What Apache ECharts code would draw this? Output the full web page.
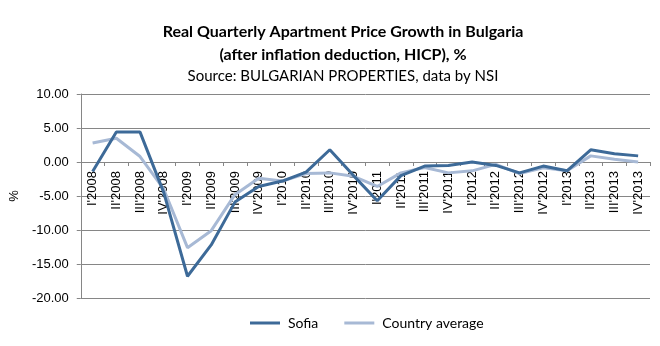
<!DOCTYPE html>
<html>
<head>
<meta charset="utf-8">
<script src="https://cdn.jsdelivr.net/npm/echarts@6/dist/echarts.min.js"></script>
<style>
  html, body { margin: 0; padding: 0; background: #fff; }
  #chart { width: 660px; height: 346px; }
</style>
</head>
<body>
<div id="chart"></div>
<script>
// Quarterly periods, 2008 Q1 to 2013 Q4
const quarters = [
  "I'2008", "II'2008", "III'2008", "IV'2008",
  "I'2009", "II'2009", "III'2009", "IV'2009",
  "I'2010", "II'2010", "III'2010", "IV'2010",
  "I'2011", "II'2011", "III'2011", "IV'2011",
  "I'2012", "II'2012", "III'2012", "IV'2012",
  "I'2013", "II'2013", "III'2013", "IV'2013"
];

// Real quarterly price growth, %
const sofia = [
  -1.4, 4.4, 4.4, -4.5,
  -16.8, -12.2, -5.9, -3.6,
  -2.8, -1.5, 1.8, -2.0,
  -5.7, -2.0, -0.6, -0.5,
  0.0, -0.5, -1.6, -0.6,
  -1.3, 1.8, 1.2, 0.9
];
const countryAverage = [
  2.8, 3.5, 0.8, -4.0,
  -12.6, -10.1, -4.8, -2.4,
  -2.8, -1.7, -1.6, -2.1,
  -3.6, -1.6, -0.8, -1.6,
  -1.3, -0.35, -1.7, -0.85,
  -1.3, 0.9, 0.4, 0.0
];

const yMin = -20, yMax = 10, yStep = 5;

// Plot box
const gridTop = 94, gridBottom = 48, chartHeight = 346;
const plotHeight = chartHeight - gridTop - gridBottom;
// Category axis sits on the zero line of the value axis
const zeroOffset = -plotHeight * (0 - yMin) / (yMax - yMin);

const chart = echarts.init(document.getElementById('chart'), null, { renderer: 'canvas' });
chart.setOption({
  animation: false,
  backgroundColor: '#ffffff',
  title: {
    text: 'Real Quarterly Apartment Price Growth in Bulgaria\n(after inflation deduction, HICP), %',
    subtext: 'Source: BULGARIAN PROPERTIES, data by NSI',
    left: 338,
    textAlign: 'center',
    top: 15,
    itemGap: 3,
    textStyle: { fontFamily: 'Lato', fontWeight: 'bold', fontSize: 16, color: '#000', lineHeight: 23 },
    subtextStyle: { fontFamily: 'Lato', fontSize: 15, color: '#000' }
  },
  legend: {
    bottom: 11,
    left: 245,
    itemWidth: 30,
    itemHeight: 3,
    itemGap: 26,
    icon: 'rect',
    textStyle: { fontFamily: 'Lato', fontSize: 14, color: '#000', padding: [0, 0, 0, 3] },
    data: ['Sofia', 'Country average']
  },
  grid: { left: 80, right: 10, top: gridTop, bottom: gridBottom, containLabel: false },
  xAxis: {
    type: 'category',
    data: quarters,
    boundaryGap: true,
    position: 'bottom',
    offset: zeroOffset,
    z: 0,
    axisLine: { onZero: false, lineStyle: { color: '#868686', width: 1 } },
    axisTick: { show: true, length: 4, lineStyle: { color: '#868686' } },
    axisLabel: { rotate: 90, margin: 9, fontFamily: 'Liberation Sans', fontSize: 13, color: '#000' },
    splitLine: { show: false }
  },
  yAxis: {
    type: 'value',
    min: yMin, max: yMax, interval: yStep,
    name: '%',
    nameLocation: 'middle',
    nameGap: 56,
    nameRotate: 90,
    nameTextStyle: { fontFamily: 'Liberation Sans', fontSize: 13, color: '#000' },
    axisLine: { show: true, lineStyle: { color: '#868686' } },
    axisTick: { show: true, length: 4, lineStyle: { color: '#868686' } },
    axisLabel: {
      margin: 12,
      fontFamily: 'Liberation Sans', fontSize: 13, color: '#000',
      formatter: v => v.toFixed(2)
    },
    splitLine: { show: true, lineStyle: { color: '#868686', width: 1 } }
  },
  series: [
    {
      name: 'Sofia', type: 'line', data: sofia,
      symbol: 'none', z: 3,
      lineStyle: { color: '#3d6a98', width: 3 },
      itemStyle: { color: '#3d6a98' }
    },
    {
      name: 'Country average', type: 'line', data: countryAverage,
      symbol: 'none', z: 2,
      lineStyle: { color: '#a7b9d5', width: 3 },
      itemStyle: { color: '#a7b9d5' }
    }
  ]
});
</script>
</body>
</html>
